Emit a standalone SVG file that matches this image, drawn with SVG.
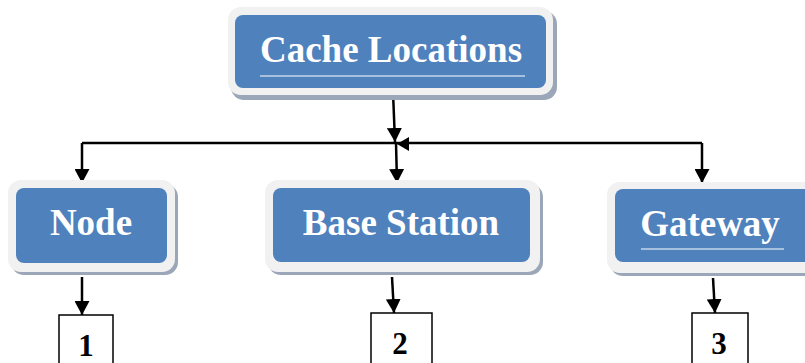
<svg xmlns="http://www.w3.org/2000/svg" width="805" height="363" viewBox="0 0 805 363">
<style>
.shadow{fill:#9BA7B8}
.frame{fill:#F1F1F1}
.inner{fill:#4F81BD}
.lbl{font-family:"Liberation Serif","Times New Roman",serif;font-weight:bold;font-size:37px;fill:#fff;text-anchor:middle}
.num{font-family:"Liberation Serif","Times New Roman",serif;font-weight:bold;font-size:31px;fill:#000;text-anchor:middle}
.box{fill:#fff;stroke:#000;stroke-width:1.5}
.ul{stroke:#fff;stroke-width:1.2}
.conn{stroke:#000;stroke-width:2.5;fill:none}
</style>
<defs>
<marker id="ah" markerUnits="userSpaceOnUse" markerWidth="15" markerHeight="15" viewBox="0 0 15 15" refX="14" refY="7.5" orient="auto">
<path d="M0,0 L14,7.5 L0,15 Z" fill="#000"/>
</marker>
</defs>
<g id="connectors">
<line class="conn" x1="393" y1="92" x2="395" y2="142" marker-end="url(#ah)"/>
<line class="conn" x1="82" y1="143" x2="702" y2="143"/>
<polygon points="397,144 409,137 409,151" fill="#000"/>
<line class="conn" x1="82" y1="143" x2="82" y2="183" marker-end="url(#ah)"/>
<line class="conn" x1="396" y1="143" x2="397" y2="183" marker-end="url(#ah)"/>
<line class="conn" x1="702" y1="143" x2="702" y2="183" marker-end="url(#ah)"/>
<line class="conn" x1="82" y1="277" x2="82" y2="315" marker-end="url(#ah)"/>
<line class="conn" x1="392" y1="277" x2="394" y2="313" marker-end="url(#ah)"/>
<line class="conn" x1="713" y1="278" x2="715" y2="313" marker-end="url(#ah)"/>
</g>
<g id="cache-locations">
<rect class="shadow" x="231" y="11" width="326" height="89" rx="13"/>
<rect class="frame" x="228" y="7" width="325" height="88" rx="13"/>
<rect class="inner" x="235" y="15" width="311" height="73" rx="8"/>
<text class="lbl" x="391" y="62">Cache Locations</text>
<line class="ul" x1="260" y1="76" x2="525" y2="76"/>
</g>
<g id="node">
<rect class="shadow" x="11" y="184" width="167" height="91" rx="13"/>
<rect class="frame" x="8" y="180" width="167" height="92" rx="13"/>
<rect class="inner" x="16" y="188" width="151" height="75" rx="8"/>
<text class="lbl" x="91" y="235">Node</text>
</g>
<g id="base-station">
<rect class="shadow" x="268" y="184" width="275" height="91" rx="13"/>
<rect class="frame" x="265" y="180" width="275" height="92" rx="13"/>
<rect class="inner" x="273" y="188" width="257" height="74" rx="8"/>
<text class="lbl" x="401" y="235">Base Station</text>
</g>
<g id="gateway">
<rect class="shadow" x="610" y="186" width="210" height="90" rx="13"/>
<rect class="frame" x="607" y="182" width="210" height="91" rx="13"/>
<rect class="inner" x="615" y="189" width="200" height="73" rx="8"/>
<text class="lbl" x="710" y="236">Gateway</text>
<line class="ul" x1="641" y1="249" x2="784" y2="249"/>
</g>
<g id="box1">
<rect class="box" x="59" y="315" width="54" height="60"/>
<text class="num" x="86" y="356">1</text>
</g>
<g id="box2">
<rect class="box" x="371" y="313" width="61" height="60"/>
<text class="num" x="400" y="354">2</text>
</g>
<g id="box3">
<rect class="box" x="692" y="313" width="56" height="60"/>
<text class="num" x="719" y="354">3</text>
</g>
</svg>
